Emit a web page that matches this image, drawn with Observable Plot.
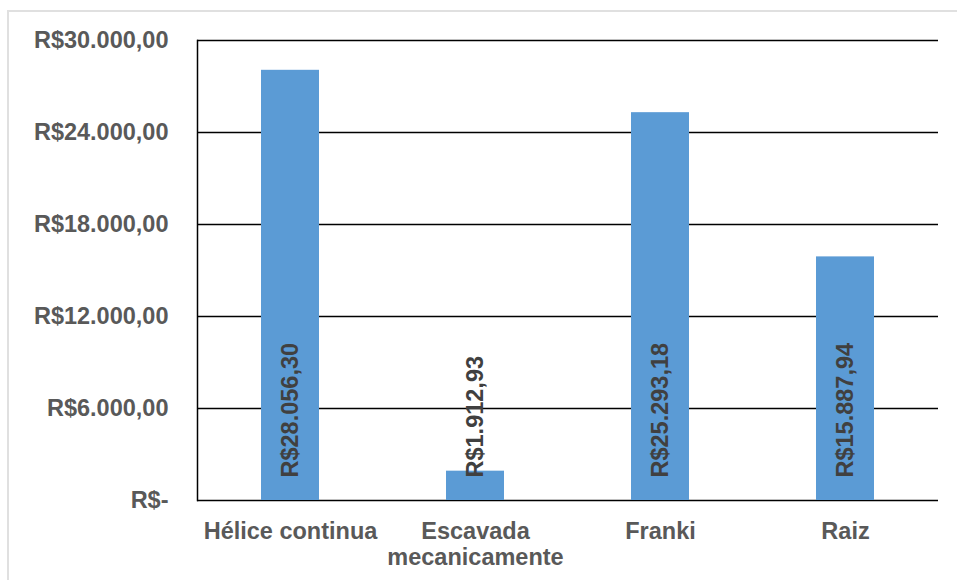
<!DOCTYPE html>
<html>
<head>
<meta charset="utf-8">
<script src="https://cdn.jsdelivr.net/npm/d3@7"></script>
<script src="https://cdn.jsdelivr.net/npm/@observablehq/plot@0.6"></script>
<style>
  html, body { margin: 0; padding: 0; background: #fff; overflow: hidden; }
  #wrap { position: relative; width: 957px; height: 580px; }
  #frame { position: absolute; left: 7px; top: 10px; width: 960px; height: 580px; border: 2px solid #e0e0e0; box-sizing: border-box; }
  #chart { position: absolute; left: 0; top: 0; }
</style>
</head>
<body>
<div id="wrap"><div id="frame"></div><div id="chart"></div></div>
<script>
const categories = ["Hélice continua", "Escavada\nmecanicamente", "Franki", "Raiz"];
const values = [28056.30, 1912.93, 25293.18, 15887.94];
const yTicks = [0, 6000, 12000, 18000, 24000, 30000];

const data = categories.map((c, i) => ({cat: c, value: values[i]}));
const locale = d3.formatLocale({decimal: ",", thousands: ".", grouping: [3], currency: ["R$", ""]});
const fmt = locale.format("$,.2f");
const yFmt = v => v === 0 ? "R$-" : fmt(v);
const font = "'Liberation Sans', Arial, sans-serif";

const plot = Plot.plot({
  width: 957,
  height: 580,
  marginLeft: 197,
  marginRight: 19,
  marginTop: 40,
  marginBottom: 80,
  style: {fontFamily: font, background: "transparent"},
  x: {domain: categories, paddingInner: 0.687, paddingOuter: 0.3435, axis: null},
  y: {domain: [0, 30000], axis: null},
  marks: [
    Plot.ruleY(yTicks, {stroke: "#000", strokeWidth: 1.5}),
    Plot.barY(data, {x: "cat", y: "value", fill: "#5B9BD5"}),
    Plot.frame({anchor: "left", stroke: "#000", strokeWidth: 1.5}),
    Plot.axisY({ticks: yTicks, tickSize: 0, tickPadding: 29, tickFormat: yFmt, label: null,
      fontSize: 23.5, fontWeight: "bold", fill: "#595959"}),
    Plot.axisX({tickSize: 0, tickPadding: 20, fontSize: 23.5, fontWeight: "bold", label: null,
      fill: "#595959", lineHeight: 1.1}),
    Plot.text(data, {x: "cat", y: () => 0, text: d => fmt(d.value), rotate: -90,
      textAnchor: "start", lineAnchor: "middle", dy: -23,
      fontSize: 23.5, fontWeight: "bold", fill: "#404040"})
  ]
});
document.getElementById("chart").appendChild(plot);
</script>
</body>
</html>
